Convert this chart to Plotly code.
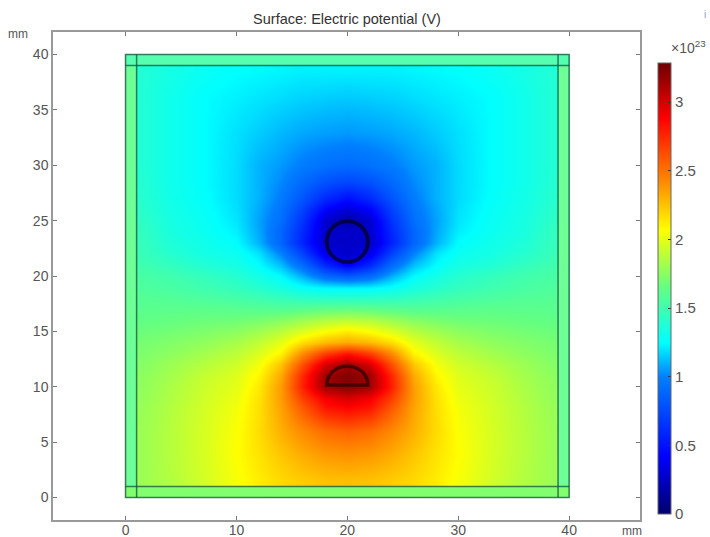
import numpy as np
import plotly.graph_objects as go

title = "Surface: Electric potential (V)"
# left half of the square: the field is mirrored about x = 20 mm
x_left = [1.5, 4, 7, 10, 12, 14, 16, 18, 20]
y_nodes = [1.5, 4, 6, 8, 9, 10, 11, 12, 13, 14, 15, 16, 17, 18, 19, 20, 21, 22, 23, 24, 25, 26, 27, 28.5, 30, 33, 36, 38.5]

row_a = [1.80, 1.86, 1.95, 2.05, 2.12, 2.18, 2.22, 2.25, 2.26]
row_b = [1.80, 1.87, 1.96, 2.07, 2.15, 2.24, 2.32, 2.38, 2.40]
row_c = [1.80, 1.87, 1.96, 2.06, 2.17, 2.30, 2.42, 2.52, 2.56]
row_d = [1.79, 1.86, 1.95, 2.04, 2.16, 2.34, 2.58, 2.80, 2.86]
row_e = [1.78, 1.85, 1.94, 2.02, 2.15, 2.36, 2.68, 2.92, 3.00]
row_f = [1.77, 1.84, 1.93, 2.00, 2.13, 2.36, 2.78, 3.15, 3.22]
row_g = [1.76, 1.82, 1.91, 1.98, 2.09, 2.32, 2.75, 3.15, 3.22]
row_h = [1.74, 1.80, 1.87, 1.94, 2.04, 2.24, 2.62, 3.00, 3.15]
row_i = [1.72, 1.76, 1.82, 1.89, 1.97, 2.10, 2.42, 2.68, 2.82]
row_j = [1.70, 1.73, 1.77, 1.83, 1.90, 2.00, 2.17, 2.28, 2.33]
row_k = [1.67, 1.69, 1.72, 1.76, 1.81, 1.88, 1.98, 2.07, 2.13]
row_l = [1.64, 1.65, 1.67, 1.68, 1.71, 1.75, 1.81, 1.87, 1.90]
row_m = [1.61, 1.62, 1.62, 1.61, 1.60, 1.60, 1.62, 1.65, 1.66]
row_n = [1.59, 1.58, 1.56, 1.53, 1.50, 1.47, 1.44, 1.43, 1.43]
row_o = [1.56, 1.54, 1.50, 1.45, 1.40, 1.34, 1.27, 1.23, 1.22]
row_p = [1.54, 1.51, 1.46, 1.40, 1.33, 1.25, 1.10, 0.92, 0.85]
row_q = [1.50, 1.45, 1.38, 1.33, 1.25, 1.12, 0.90, 0.58, 0.38]
row_r = [1.47, 1.40, 1.33, 1.29, 1.20, 1.00, 0.72, 0.35, 0.27]
row_s = [1.46, 1.37, 1.31, 1.25, 1.10, 0.88, 0.57, 0.25, 0.27]
row_t = [1.45, 1.35, 1.29, 1.22, 1.08, 0.88, 0.60, 0.27, 0.27]
row_u = [1.43, 1.34, 1.28, 1.20, 1.07, 0.92, 0.65, 0.28, 0.16]
row_v = [1.41, 1.33, 1.27, 1.19, 1.08, 0.95, 0.72, 0.42, 0.30]
row_w = [1.40, 1.32, 1.26, 1.18, 1.10, 0.98, 0.80, 0.60, 0.48]
row_x = [1.39, 1.31, 1.25, 1.18, 1.10, 1.02, 0.90, 0.79, 0.74]
row_y = [1.38, 1.31, 1.25, 1.18, 1.10, 1.05, 0.98, 0.93, 0.90]
row_z = [1.38, 1.31, 1.25, 1.19, 1.15, 1.11, 1.08, 1.06, 1.05]
row_aa = [1.38, 1.31, 1.25, 1.22, 1.20, 1.18, 1.16, 1.15, 1.14]
row_ab = [1.38, 1.33, 1.28, 1.25, 1.24, 1.23, 1.22, 1.22, 1.22]

rows = [row_a, row_b, row_c, row_d, row_e, row_f, row_g, row_h, row_i, row_j, row_k, row_l,
        row_m, row_n, row_o, row_p, row_q, row_r, row_s, row_t, row_u, row_v, row_w, row_x,
        row_y, row_z, row_aa, row_ab]

x_ticks = [0, 10, 20, 30, 40]
y_ticks = [0, 5, 10, 15, 20, 25, 30, 35, 40]
cb_ticks = [0, 0.5, 1, 1.5, 2, 2.5, 3]
cb_labels = ["0", "0.5", "1", "1.5", "2", "2.5", "3"]
z_max = 3.285

half = np.array(rows, dtype=float)
full = np.hstack([half, half[:, -2::-1]])
z = np.pad(full, 1, mode="edge")
x_core = x_left + [40 - v for v in x_left[-2::-1]]
x = [0.5] + x_core + [39.5]
y = [0.5] + y_nodes + [39.5]

cs = [
    [0.0, "rgb(0,0,110)"], [0.128, "rgb(0,0,255)"], [0.304, "rgb(0,128,255)"],
    [0.38, "rgb(0,255,255)"], [0.502, "rgb(100,255,130)"], [0.63, "rgb(255,255,0)"],
    [0.725, "rgb(255,150,0)"], [0.877, "rgb(255,0,0)"], [1.0, "rgb(110,0,0)"],
]

GRAY = "#555555"
FONT = "Liberation Sans"
L, R, T, B = 53, 640, 32, 520
W, H = 710, 537

fig = go.Figure()
fig.add_trace(go.Heatmap(
    x=x, y=y, z=z, zmin=0, zmax=z_max, zsmooth="best", colorscale=cs,
    hoverinfo="skip",
    colorbar=dict(
        thickness=13, thicknessmode="pixels", len=451 / (B - T), lenmode="fraction",
        x=(658 - L) / (R - L), xanchor="left", xpad=0,
        y=(B - 514) / (B - T), yanchor="bottom", ypad=0,
        tickvals=cb_ticks, ticktext=cb_labels, ticks="inside", ticklen=3,
        tickcolor="#333333", outlinecolor="#666666", outlinewidth=1,
        tickfont=dict(family=FONT, size=15, color=GRAY),
    ),
))

EDGE = "rgba(20,80,60,0.75)"
strips = [(0, 0, 1, 40, "rgb(110,255,150)"), (39, 0, 40, 40, "rgb(110,255,150)"),
          (0, 39, 40, 40, "rgb(85,255,175)"), (0, 0, 40, 1, "rgb(130,255,110)")]
shapes = [dict(type="rect", xref="x", yref="y", x0=a, y0=b, x1=c, y1=d, fillcolor=col,
               line=dict(width=0), layer="above") for a, b, c, d, col in strips]
for v in (1, 39):
    shapes.append(dict(type="line", xref="x", yref="y", x0=v, x1=v, y0=0, y1=40, line=dict(color=EDGE, width=1.5)))
    shapes.append(dict(type="line", xref="x", yref="y", x0=0, x1=40, y0=v, y1=v, line=dict(color=EDGE, width=1.5)))
shapes.append(dict(type="rect", xref="x", yref="y", x0=0, x1=40, y0=0, y1=40, line=dict(color=EDGE, width=1.5)))
shapes.append(dict(type="circle", xref="x", yref="y", x0=18.15, x1=21.85, y0=21.25, y1=24.95,
                   line=dict(color="rgba(0,0,30,0.7)", width=4)))
shapes.append(dict(type="path", xref="x", yref="y",
                   path="M 18.15 10.15 C 18.15 11.15 18.95 11.85 20 11.85 C 21.05 11.85 21.85 11.15 21.85 10.15 Z",
                   line=dict(color="rgba(50,0,0,0.75)", width=3.5)))

axis = dict(showgrid=False, zeroline=False, showline=True, linecolor="#999999", linewidth=1.5,
            mirror="ticks", ticks="inside", ticklen=4, tickcolor="#777777", tickwidth=1,
            tickfont=dict(family=FONT, size=14, color=GRAY))

fig.update_layout(
    width=W, height=H, paper_bgcolor="white", plot_bgcolor="white",
    margin=dict(l=L, r=W - R, t=T, b=H - B, autoexpand=False),
    shapes=shapes,
    title=dict(text=title, x=347 / W, xanchor="center", y=1 - 19 / H, yanchor="middle",
               font=dict(family=FONT, size=14.5, color="#333333")),
    xaxis=dict(axis, range=[-6.54, 46.39], tickvals=x_ticks, ticklabelstandoff=-4),
    yaxis=dict(axis, range=[-2.03, 42.03], tickvals=y_ticks),
    annotations=[
        dict(text="mm", xref="paper", yref="paper", x=(18 - L) / (R - L), y=(B - 34) / (B - T),
             xanchor="center", yanchor="middle", showarrow=False, font=dict(family=FONT, size=12, color=GRAY)),
        dict(text="mm", xref="paper", yref="paper", x=(632 - L) / (R - L), y=(B - 531) / (B - T),
             xanchor="center", yanchor="middle", showarrow=False, font=dict(family=FONT, size=12, color=GRAY)),
        dict(text="×10<sup>23</sup>", xref="paper", yref="paper", x=(688 - L) / (R - L), y=(B - 47) / (B - T),
             xanchor="center", yanchor="middle", showarrow=False, font=dict(family=FONT, size=14, color=GRAY)),
        dict(text="i", xref="paper", yref="paper", x=(705 - L) / (R - L), y=(B - 14) / (B - T),
             xanchor="center", yanchor="middle", showarrow=False, font=dict(family=FONT, size=10, color="#7f9fc4")),
    ],
)
fig.write_html("out.html", config={"displayModeBar": False}, post_script="document.body.style.margin='0';")
